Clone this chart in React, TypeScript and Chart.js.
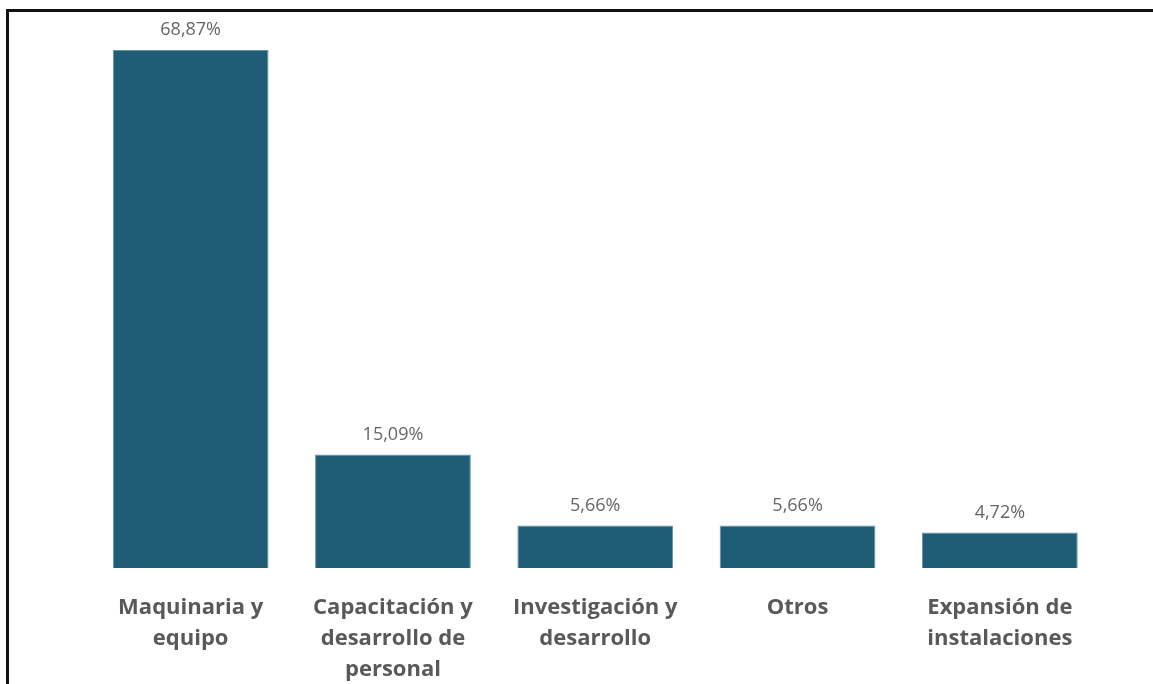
import React, { useEffect, useRef } from "react";
import { Chart, registerables } from "chart.js";

Chart.register(...registerables);

const categories: string[][] = [
  ["Maquinaria y", "equipo"],
  ["Capacitación y", "desarrollo de", "personal"],
  ["Investigación y", "desarrollo"],
  ["Otros"],
  ["Expansión de", "instalaciones"],
];
const shares: number[] = [68.87, 15.09, 5.66, 5.66, 4.72];
const shareLabels: string[] = ["68,87%", "15,09%", "5,66%", "5,66%", "4,72%"];

const valueLabelPlugin = {
  id: "valueLabels",
  afterDatasetsDraw(chart: any) {
    const ctx = chart.ctx;
    const meta = chart.getDatasetMeta(0);
    ctx.save();
    ctx.font = "18px 'Open Sans'";
    ctx.fillStyle = "#666666";
    ctx.textAlign = "center";
    ctx.textBaseline = "middle";
    meta.data.forEach((bar: any, i: number) => {
      ctx.fillText(shareLabels[i], bar.x, bar.y - 20);
    });
    ctx.restore();
  },
};

export default function App() {
  const canvasRef = useRef<HTMLCanvasElement | null>(null);

  useEffect(() => {
    document.body.style.margin = "0";
    const chart = new Chart(canvasRef.current as HTMLCanvasElement, {
      type: "bar",
      data: {
        labels: categories,
        datasets: [
          {
            data: shares,
            backgroundColor: "#1f5d76",
            borderColor: "rgba(60,120,145,0.8)",
            borderWidth: 1,
            categoryPercentage: 1,
            barPercentage: 0.77,
          },
        ],
      },
      options: {
        responsive: false,
        animation: false,
        maintainAspectRatio: false,
        layout: { padding: { left: 89.5, right: 52, top: 50, bottom: 0 } },
        plugins: { legend: { display: false }, tooltip: { enabled: false } },
        scales: {
          y: { display: false, min: 0, max: 68.87 },
          x: {
            grid: { display: false },
            border: { display: false },
            ticks: {
              color: "#595959",
              padding: 16,
              maxRotation: 0,
              autoSkip: false,
              font: { family: "'Open Sans'", size: 22, weight: "bold", lineHeight: 31 / 22 },
            },
          },
        },
      },
      plugins: [valueLabelPlugin],
    });
    return () => chart.destroy();
  }, []);

  return (
    <div style={{ position: "fixed", left: 0, top: 0, width: 1153, height: 684, background: "#fff", overflow: "hidden" }}>
      <div
        style={{
          position: "absolute",
          left: 6,
          top: 9,
          width: 1200,
          height: 700,
          borderTop: "3px solid #111",
          borderLeft: "3px solid #111",
        }}
      />
      <canvas ref={canvasRef} width={1153} height={701} style={{ position: "absolute", left: 0, top: 0 }} />
    </div>
  );
}
